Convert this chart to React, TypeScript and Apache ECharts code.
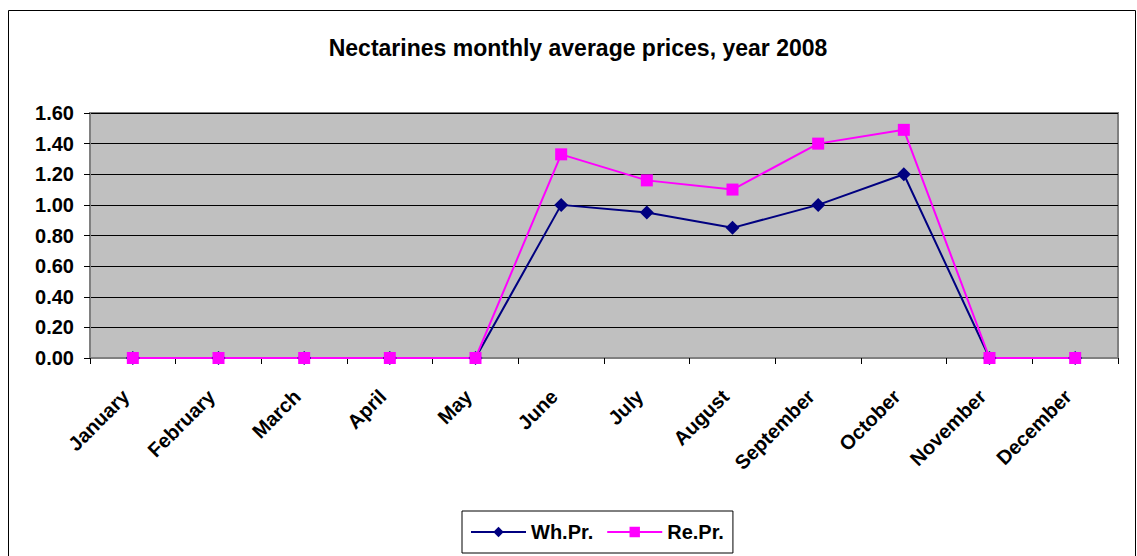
import React, { useEffect, useRef } from "react";
import * as echarts from "echarts";

const months = ["January", "February", "March", "April", "May", "June", "July", "August", "September", "October", "November", "December"];
const whPr = [0, 0, 0, 0, 0, 1.0, 0.95, 0.85, 1.0, 1.2, 0, 0];
const rePr = [0, 0, 0, 0, 0, 1.33, 1.16, 1.1, 1.4, 1.49, 0, 0];
const title = "Nectarines monthly average prices, year 2008";

export default function App() {
  const ref = useRef<HTMLDivElement>(null);
  useEffect(() => {
    if (!ref.current) return;
    const chart = echarts.init(ref.current, undefined, { renderer: "svg" });
    const font = "Liberation Sans, Arial, sans-serif";
    chart.setOption({
      animation: false,
      backgroundColor: "#fff",
      title: {
        text: title,
        left: 573,
        textAlign: "center",
        top: 31,
        textStyle: { fontFamily: font, fontWeight: "bold", fontSize: 23, color: "#000" },
      },
      graphic: [
        {
          type: "rect",
          shape: { x: 8.5, y: 10.5, width: 1127, height: 560 },
          style: { fill: "none", stroke: "#000", lineWidth: 1 },
          silent: true,
          z: -1,
        },
      ],
      legend: {
        left: 462,
        top: 511,
        itemWidth: 55,
        itemHeight: 13,
        itemGap: 13,
        padding: [11, 9, 11, 8],
        borderColor: "#000",
        borderWidth: 1,
        backgroundColor: "#fff",
        textStyle: { fontFamily: font, fontWeight: "bold", fontSize: 20, color: "#000" },
        data: ["Wh.Pr.", "Re.Pr."],
      },
      grid: {
        left: 90,
        right: 19,
        top: 113,
        bottom: 198,
        show: true,
        backgroundColor: "#C0C0C0",
        borderColor: "#808080",
        borderWidth: 2,
      },
      xAxis: {
        type: "category",
        data: months,
        boundaryGap: true,
        axisLine: { lineStyle: { color: "#808080", width: 2 } },
        axisTick: { show: true, alignWithLabel: false, length: 6, lineStyle: { color: "#000" } },
        axisLabel: {
          rotate: 45,
          margin: 28,
          interval: 0,
          padding: [0, 10, 0, 0],
          fontFamily: font,
          fontWeight: "bold",
          fontSize: 20,
          color: "#000",
        },
      },
      yAxis: {
        type: "value",
        min: 0,
        max: 1.6,
        interval: 0.2,
        axisLine: { show: true, lineStyle: { color: "#808080", width: 2 } },
        axisTick: { show: true, length: 6, lineStyle: { color: "#000" } },
        splitLine: { show: true, lineStyle: { color: "#000", width: 1 } },
        axisLabel: {
          margin: 16,
          fontFamily: font,
          fontWeight: "bold",
          fontSize: 20,
          color: "#000",
          formatter: (v: number) => v.toFixed(2),
        },
      },
      series: [
        {
          name: "Wh.Pr.",
          type: "line",
          data: whPr,
          symbol: "diamond",
          symbolSize: 14,
          color: "#000080",
          lineStyle: { color: "#000080", width: 2 },
          itemStyle: { color: "#000080" },
        },
        {
          name: "Re.Pr.",
          type: "line",
          data: rePr,
          symbol: "rect",
          symbolSize: 12,
          color: "#FF00FF",
          lineStyle: { color: "#FF00FF", width: 2 },
          itemStyle: { color: "#FF00FF" },
        },
      ],
    });
    return () => chart.dispose();
  }, []);
  return (
    <div
      ref={ref}
      style={{ position: "absolute", left: 0, top: 0, width: 1137, height: 556 }}
    />
  );
}
